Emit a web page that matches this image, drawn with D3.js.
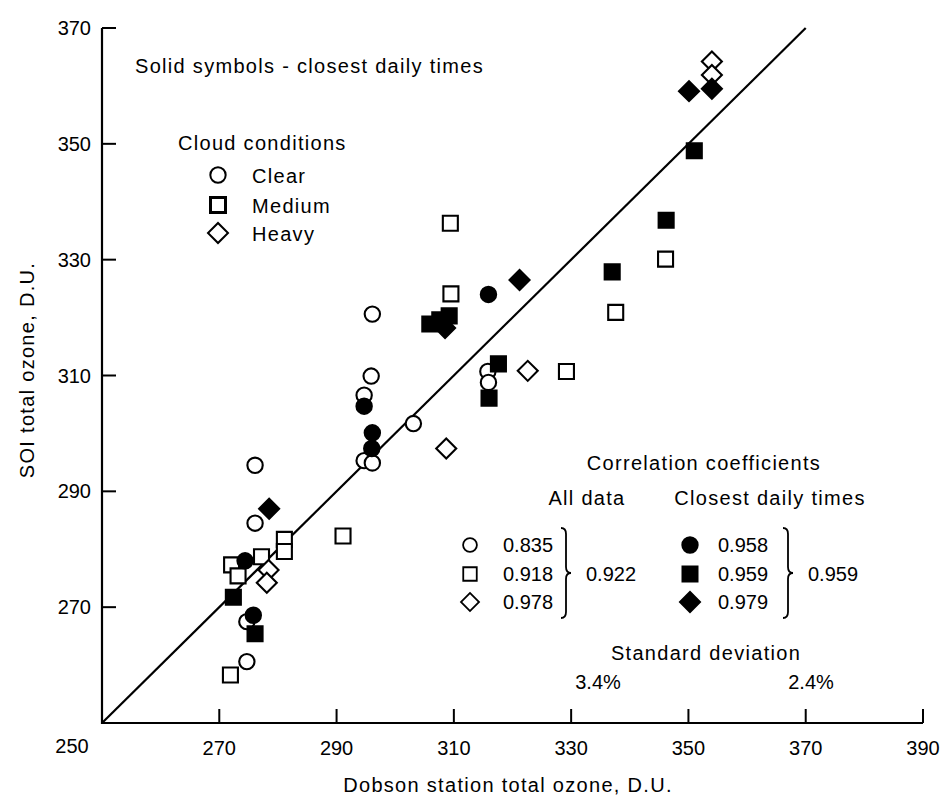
<!DOCTYPE html>
<html>
<head>
<meta charset="utf-8">
<script src="https://cdn.jsdelivr.net/npm/d3@7/dist/d3.min.js"></script>
<style>
  html, body { margin: 0; padding: 0; background: #fff; }
  svg { display: block; }
  text { font-family: "Liberation Sans", Arial, sans-serif; fill: #000; }
  .lbl { font-size: 20px; letter-spacing: 1.3px; }
  .num { font-size: 20px; }
</style>
</head>
<body>
<script>
// 数据：Dobson 站 vs SOI 总臭氧（D.U.），按云况与是否为最近日时次分组
const xTicks = [270, 290, 310, 330, 350, 370, 390];
const yTicks = [270, 290, 310, 330, 350, 370];

const clearOpen = [
  [276.1, 294.5], [276.1, 284.5], [274.7, 267.5], [274.7, 260.6],
  [296.1, 320.6], [295.9, 309.9], [294.7, 306.6], [294.7, 295.3],
  [296.1, 294.9], [303.1, 301.7], [315.8, 310.7], [315.9, 308.8]
];
const clearSolid = [
  [274.4, 278.0], [275.8, 268.6], [294.7, 304.7], [296.1, 300.1],
  [296.0, 297.4], [315.9, 324.0]
];
const mediumOpen = [
  [271.9, 258.3], [272.1, 277.3], [273.2, 275.4], [277.2, 278.7],
  [281.1, 281.7], [281.1, 279.6], [291.1, 282.3], [309.4, 336.3],
  [309.5, 324.1], [329.2, 310.7], [337.6, 320.9], [346.1, 330.1]
];
const mediumSolid = [
  [272.4, 271.7], [276.1, 265.4], [305.9, 318.9], [307.6, 319.6],
  [309.2, 320.3], [317.6, 312.0], [316.0, 306.1], [337.0, 327.9],
  [346.2, 336.8], [351.0, 348.8]
];
const heavyOpen = [
  [278.4, 276.4], [278.1, 274.2], [308.7, 297.4], [322.6, 310.8],
  [354.0, 364.2], [354.0, 361.9]
];
const heavySolid = [
  [278.5, 287.0], [308.5, 318.2], [321.2, 326.5], [350.1, 359.1],
  [354.0, 359.5]
];

const corrAll = ["0.835", "0.918", "0.978"];
const corrClosest = ["0.958", "0.959", "0.979"];
const corrAllTotal = "0.922", corrClosestTotal = "0.959";
const stdDev = ["3.4%", "2.4%"];

const W = 951, H = 801;
const x = d3.scaleLinear().domain([250, 390]).range([102, 923]);
const y = d3.scaleLinear().domain([250, 370]).range([723, 28]);

const svg = d3.select("body").append("svg")
  .attr("width", W).attr("height", H).attr("viewBox", `0 0 ${W} ${H}`);

// 符号
const shapes = {
  circle: d3.symbol().type(d3.symbolCircle).size(185)(),
  square: d3.symbol().type(d3.symbolSquare).size(225)(),
  diamond: d3.symbol().type(d3.symbolSquare).size(200)()
};
function mark(g, kind, solid, cx, cy, sw, sc) {
  return g.append("path")
    .attr("d", shapes[kind])
    .attr("transform", `translate(${cx},${cy})` + (kind === "diamond" ? " rotate(45)" : "") +
      (sc ? ` scale(${sc})` : ""))
    .attr("fill", solid ? "#000" : "#fff")
    .attr("stroke", "#000").attr("stroke-width", sw || 2.1);
}

// ── 坐标轴 ──
svg.append("path")
  .attr("d", `M${x(250)},${y(370)} L${x(250)},${y(250)} L${x(390)},${y(250)}`)
  .attr("fill", "none").attr("stroke", "#000").attr("stroke-width", 2.2);
xTicks.forEach(v => {
  svg.append("line").attr("x1", x(v)).attr("x2", x(v)).attr("y1", y(250)).attr("y2", y(250) - 14)
    .attr("stroke", "#000").attr("stroke-width", 2);
  svg.append("text").attr("class", "num").attr("x", x(v)).attr("y", 755)
    .attr("text-anchor", "middle").text(v);
});
yTicks.forEach(v => {
  svg.append("line").attr("x1", x(250)).attr("x2", x(250) + 14).attr("y1", y(v)).attr("y2", y(v))
    .attr("stroke", "#000").attr("stroke-width", 2);
  svg.append("text").attr("class", "num").attr("x", 91).attr("y", y(v) + 7)
    .attr("text-anchor", "end").text(v);
});
svg.append("text").attr("class", "num").attr("x", 72).attr("y", 753)
  .attr("text-anchor", "middle").text(250);

svg.append("text").attr("class", "lbl")
  .attr("x", 508).attr("y", 792).attr("text-anchor", "middle")
  .text("Dobson station total ozone, D.U.");
svg.append("text").attr("class", "lbl")
  .attr("transform", "translate(34,370) rotate(-90)").attr("text-anchor", "middle")
  .text("SOI total ozone, D.U.");

// ── 1:1 线 ──
svg.append("line")
  .attr("x1", x(250)).attr("y1", y(250)).attr("x2", x(370)).attr("y2", y(370))
  .attr("stroke", "#000").attr("stroke-width", 2.2);

// ── 数据点 ──
const pts = svg.append("g");
const groups = [
  [clearOpen, "circle", false], [mediumOpen, "square", false], [heavyOpen, "diamond", false],
  [clearSolid, "circle", true], [mediumSolid, "square", true], [heavySolid, "diamond", true]
];
groups.forEach(([arr, kind, solid]) => {
  arr.forEach(d => mark(pts, kind, solid, x(d[0]), y(d[1])));
});

// ── 图例（左上）──
svg.append("text").attr("class", "lbl").attr("x", 135).attr("y", 73)
  .text("Solid symbols - closest daily times");
svg.append("text").attr("class", "lbl").attr("x", 178).attr("y", 150)
  .text("Cloud conditions");
const legItems = [["circle", "Clear", 175], ["square", "Medium", 205], ["diamond", "Heavy", 233]];
legItems.forEach(([k, t, cy]) => {
  mark(svg, k, false, 218, cy, k === "square" ? 3 : 2);
  svg.append("text").attr("class", "lbl").attr("x", 252).attr("y", cy + 8).text(t);
});

// ── 相关系数表（右下）──
svg.append("text").attr("class", "lbl").attr("x", 704).attr("y", 470)
  .attr("text-anchor", "middle").text("Correlation coefficients");
svg.append("text").attr("class", "lbl").attr("x", 587).attr("y", 505)
  .attr("text-anchor", "middle").text("All data");
svg.append("text").attr("class", "lbl").attr("x", 770).attr("y", 505)
  .attr("text-anchor", "middle").text("Closest daily times");

const rowY = [545, 574, 602];
const kinds = ["circle", "square", "diamond"];
function brace(xb, y0, y1) {
  const ym = (y0 + y1) / 2;
  return `M${xb},${y0} Q${xb + 5},${y0} ${xb + 5},${y0 + 6} L${xb + 5},${ym - 6} Q${xb + 5},${ym} ${xb + 10},${ym}` +
    ` Q${xb + 5},${ym} ${xb + 5},${ym + 6} L${xb + 5},${y1 - 6} Q${xb + 5},${y1} ${xb},${y1}`;
}
rowY.forEach((ry, i) => {
  mark(svg, kinds[i], false, 470, ry, 2, 0.9);
  svg.append("text").attr("class", "num").attr("x", 503).attr("y", ry + 7).text(corrAll[i]);
  mark(svg, kinds[i], true, 690, ry, 2, 1);
  svg.append("text").attr("class", "num").attr("x", 718).attr("y", ry + 7).text(corrClosest[i]);
});
svg.append("path").attr("d", brace(561, 528, 618))
  .attr("fill", "none").attr("stroke", "#000").attr("stroke-width", 1.8);
svg.append("path").attr("d", brace(783, 528, 618))
  .attr("fill", "none").attr("stroke", "#000").attr("stroke-width", 1.8);
svg.append("text").attr("class", "num").attr("x", 586).attr("y", 581).text(corrAllTotal);
svg.append("text").attr("class", "num").attr("x", 808).attr("y", 581).text(corrClosestTotal);

svg.append("text").attr("class", "lbl").attr("x", 706).attr("y", 660)
  .attr("text-anchor", "middle").text("Standard deviation");
svg.append("text").attr("class", "num").attr("x", 598).attr("y", 689)
  .attr("text-anchor", "middle").text(stdDev[0]);
svg.append("text").attr("class", "num").attr("x", 811).attr("y", 689)
  .attr("text-anchor", "middle").text(stdDev[1]);
</script>
</body>
</html>
